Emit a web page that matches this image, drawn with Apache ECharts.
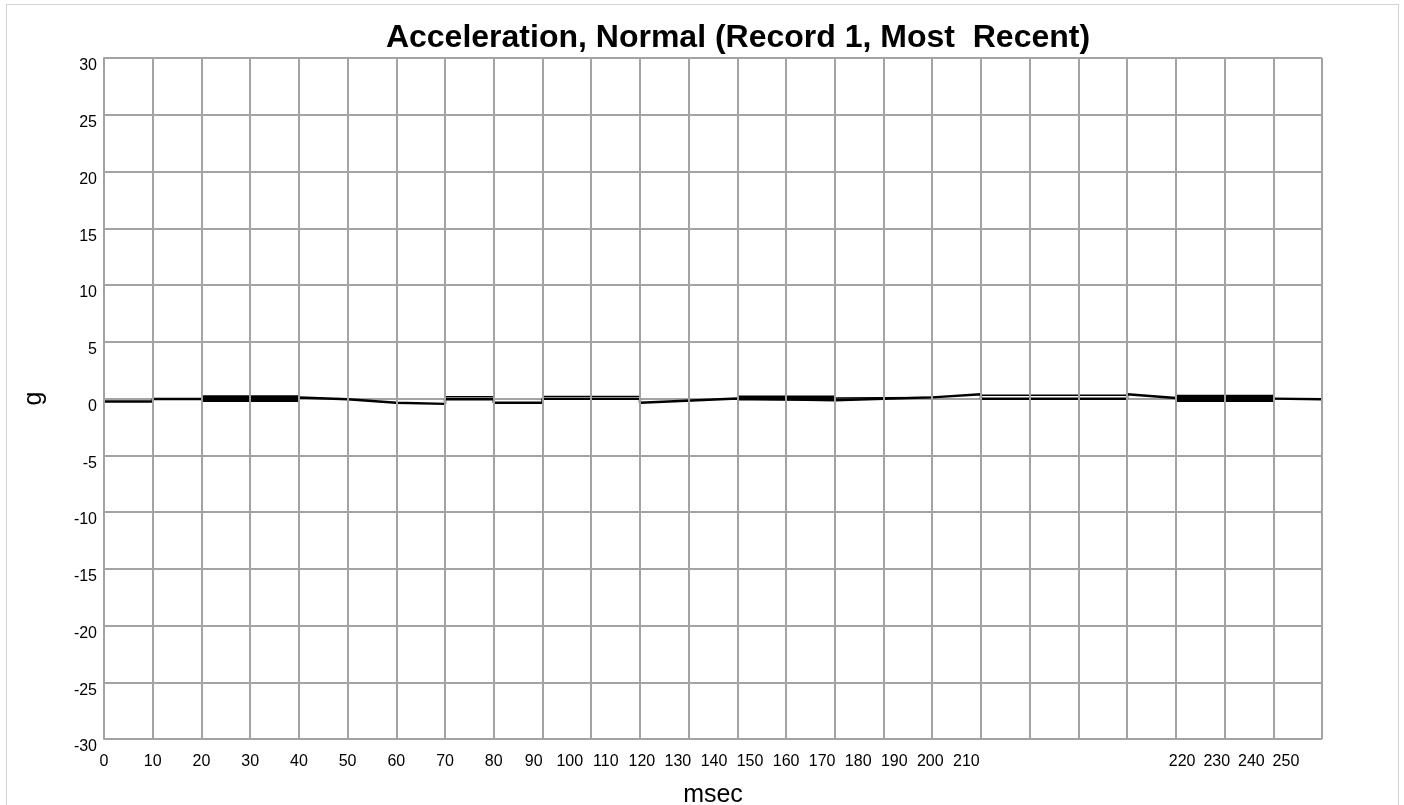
<!DOCTYPE html>
<html>
<head>
<meta charset="utf-8">
<script src="https://cdn.jsdelivr.net/npm/echarts@6/dist/echarts.min.js"></script>
<style>
  html, body { margin: 0; padding: 0; background: #ffffff; overflow: hidden; width: 1404px; height: 805px; }
  #frame { position: absolute; left: 6px; top: 4px; width: 1391px; height: 820px; border: 1.5px solid #d3d3d3; }
  #chart { position: absolute; left: 0; top: 0; width: 1404px; height: 805px; }
</style>
</head>
<body>
<div id="frame"></div>
<div id="chart"></div>
<script>
// ---- data (msec, g) ----
const titleText = 'Acceleration, Normal (Record 1, Most  Recent)';
const xTickLabels = ['0','10','20','30','40','50','60','70','80','90','100','110','120','130','140','150','160','170','180','190','200','210','220','230','240','250'];
// where each tick label sits along the msec axis
const xTickPositions = [0,10,20,30,40,50,60,70,80,88.2,95.6,103.0,110.4,117.8,125.2,132.6,140.0,147.4,154.8,162.2,169.6,177.0,221.3,228.4,235.5,242.6];

// main trace [msec, g]
const traceMain = [
  [0,-0.26],[10,-0.26],[10,-0.04],[20,-0.04],[40,0.09],[50,-0.07],[60,-0.38],[70,-0.47],
  [70,-0.07],[80,-0.07],[80,-0.37],[90,-0.37],[90,-0.03],[110,-0.03],[110,-0.37],[130,0.0],
  [150,-0.16],[170,0.10],[180,0.37],[180,-0.02],[210,-0.02],[210,0.38],[220,0.04],
  [240,-0.01],[250,-0.07]
];
// secondary (upper) trace segments
const traceUpper = [
  [[70,0.16],[80,0.16]],
  [[90,0.18],[110,0.18]],
  [[150,0.04],[170,0.10]],
  [[180,0.28],[210,0.28]]
];
// dense-noise bands [msecStart, msecEnd, low g, high g]
const noiseBands = [
  [20,40,-0.31,0.28],
  [130,150,-0.18,0.26],
  [220,240,-0.31,0.33]
];

const labelMap = {};
xTickPositions.forEach((p, i) => { labelMap[p.toFixed(1)] = xTickLabels[i]; });

const gridColor = '#a3a3a3';
const fontFam = '"Liberation Sans", Arial, sans-serif';

const series = [];
series.push({
  type: 'custom',
  name: 'band',
  z: 2,
  renderItem: function (params, api) {
    const p0 = api.coord([api.value(0), api.value(3)]);
    const p1 = api.coord([api.value(1), api.value(2)]);
    return { type: 'rect', shape: { x: p0[0], y: p0[1], width: p1[0] - p0[0], height: p1[1] - p0[1] }, style: { fill: '#000000' } };
  },
  encode: { x: [0, 1], y: [2, 3] },
  data: noiseBands
});
series.push({
  type: 'line', name: 'trace', data: traceMain, showSymbol: false, symbol: 'none', z: 3,
  lineStyle: { color: '#000000', width: 2.4 }, animation: false
});
traceUpper.forEach((seg, i) => {
  series.push({
    type: 'line', name: 'upper' + i, data: seg, showSymbol: false, symbol: 'none', z: 3,
    lineStyle: { color: '#000000', width: 1.4 }, animation: false
  });
});

const chart = echarts.init(document.getElementById('chart'), null, { renderer: 'canvas' });
chart.setOption({
  animation: false,
  backgroundColor: 'transparent',
  title: {
    text: titleText,
    left: 733,
    textAlign: 'center',
    top: 17,
    textStyle: { fontFamily: fontFam, fontWeight: 'bold', fontSize: 32, color: '#000000' }
  },
  grid: { left: 104, right: 82, top: 58, bottom: 66, containLabel: false, outerBoundsMode: 'none' },
  xAxis: [
    {
      type: 'value', min: 0, max: 250, interval: 10, z: 10,
      axisLine: { show: false }, axisTick: { show: false }, axisLabel: { show: false },
      splitLine: { show: true, lineStyle: { color: gridColor, width: 2 } }
    },
    {
      type: 'value', min: 0, max: 250, position: 'bottom',
      axisLine: { show: false }, axisTick: { show: false }, splitLine: { show: false },
      name: 'msec', nameLocation: 'middle', nameGap: 44,
      nameTextStyle: { fontFamily: fontFam, fontSize: 25, color: '#000000' },
      axisLabel: {
        show: true, customValues: xTickPositions, margin: 15,
        fontFamily: fontFam, fontSize: 16, color: '#000000',
        formatter: function (v) { const k = Number(v).toFixed(1); return labelMap[k] !== undefined ? labelMap[k] : ''; }
      }
    }
  ],
  yAxis: {
    type: 'value', min: -30, max: 30, interval: 5, z: 0,
    name: 'g', nameLocation: 'middle', nameGap: 57,
    nameTextStyle: { fontFamily: fontFam, fontSize: 25, color: '#000000' },
    axisLine: { show: true, lineStyle: { color: gridColor, width: 2 } },
    axisTick: { show: false },
    axisLabel: { fontFamily: fontFam, fontSize: 16, color: '#000000', margin: 7, verticalAlign: 'top', lineHeight: 16 },
    splitLine: { show: true, lineStyle: { color: gridColor, width: 2 } }
  },
  series: series
});
</script>
</body>
</html>
